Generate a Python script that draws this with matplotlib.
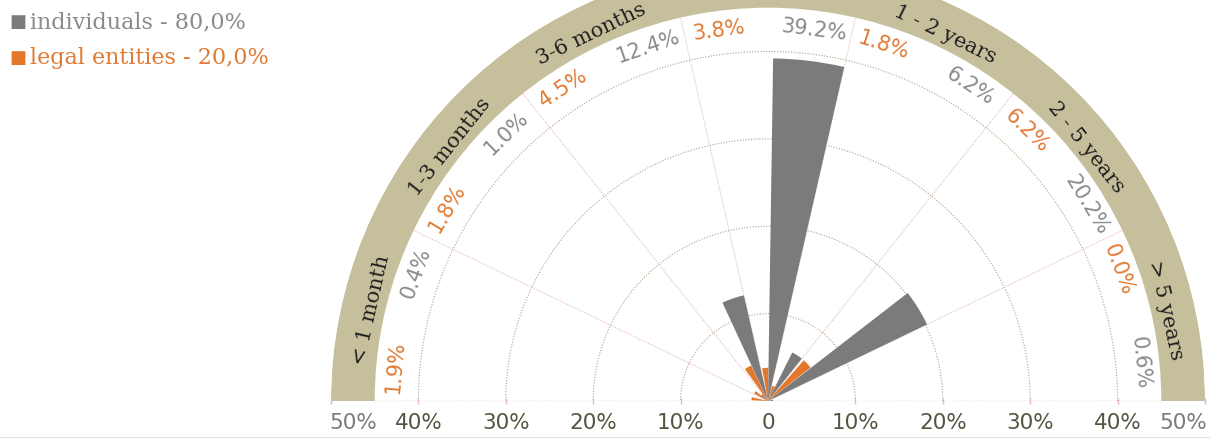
import numpy as np
import matplotlib
matplotlib.use('Agg')
import matplotlib.pyplot as plt
from matplotlib import transforms
from matplotlib.lines import Line2D

# data, left (shortest) to right (longest)
categories = ['< 1 month', '1-3 months', '3-6 months', '6-12 months',
              '1 - 2 years', '2 - 5 years', '> 5 years']
individuals = [0.4, 1.0, 12.4, 39.2, 6.2, 20.2, 0.6]
legal_entities = [1.9, 1.8, 4.5, 3.8, 1.8, 6.2, 0.0]
legend_labels = ['individuals - 80,0%', 'legal entities - 20,0%']
ring_ticks = [10, 20, 30, 40, 50]

GRAY = '#7b7b7b'
ORANGE = '#e2782c'
GRAY_TXT = '#8a8a90'
ORANGE_TXT = '#e07b35'
TAN = '#c6bf9c'
PINK = '#e6b7bd'
OLIVE = '#aaa585'
TICK_TXT = '#55533f'

SERIF = ['DejaVu Serif']
NARROW = ['Liberation Sans Narrow', 'DejaVu Sans']

n = len(categories)
sector = np.pi / n
# first category sits on the left (theta near pi)
starts = np.array([np.pi - (i + 1) * sector for i in range(n)])

W, H = 1210.0, 438.0
fig = plt.figure(figsize=(12.1, 4.38), dpi=100)
# polar box is square and the half disc is centred in it vertically
R = 437.0
cx, cy = 768.0, H - 401.0
ax = fig.add_axes([(cx - R) / W, (cy - R / 2) / H, 2 * R / W, 2 * R / H],
                  projection='polar')
ax.set_thetamin(0)
ax.set_thetamax(180)
ax.set_ylim(0, 50)
ax.set_axis_off()

# tan outer band
ax.bar(np.pi / 2, 5, width=np.pi, bottom=45, color=TAN, edgecolor='none',
       zorder=1)

# dotted rings
th = np.linspace(0, np.pi, 600)
for r in ring_ticks[:-1]:
    ax.plot(th, np.full_like(th, r), color=OLIVE, lw=0.8,
            ls=(0, (1, 1.5)), zorder=2)

# sector dividers
for k in range(1, n):
    ax.plot([k * sector, k * sector], [0, 50], color=PINK, lw=0.8,
            ls=(0, (1, 1.2)), zorder=2)
ax.plot([0, 0], [0, 50], color=PINK, lw=1.0, ls=(0, (1, 1)), zorder=2)
ax.plot([np.pi, np.pi], [0, 50], color=PINK, lw=1.0, ls=(0, (1, 1)), zorder=2)

# bars
gw = np.deg2rad(12)
ow = np.deg2rad(10.5)
ax.bar(starts, individuals, width=gw, align='edge', color=GRAY,
       edgecolor='none', zorder=3)
ax.bar(starts + np.deg2rad(12.5), legal_entities, width=ow, align='edge',
       color=ORANGE, edgecolor='none', zorder=4)

# value labels
for s, gv, ov in zip(starts, individuals, legal_entities):
    tg = s + np.deg2rad(5.8)
    to = s + np.deg2rad(20.5)
    ax.text(tg, 42.8, '{0:.1f}%'.format(gv), rotation=np.rad2deg(tg) - 90,
            rotation_mode='anchor', ha='center', va='center',
            color=GRAY_TXT, fontsize=15, family=NARROW, zorder=5)
    ax.text(to, 42.8, '{0:.1f}%'.format(ov), rotation=np.rad2deg(to) - 90,
            rotation_mode='anchor', ha='center', va='center',
            color=ORANGE_TXT, fontsize=15, family=NARROW, zorder=5)

# category labels in the band
for s, name in zip(starts, categories):
    tc = s + sector / 2
    ax.text(tc, 46.6, name, rotation=np.rad2deg(tc) - 90,
            rotation_mode='anchor', ha='center', va='center',
            color='#1e1e1e', fontsize=15, family=SERIF, zorder=5)

# scale labels under the baseline
below = transforms.offset_copy(ax.transData, fig=fig, y=-22, units='dots')
for r in ring_ticks:
    pos = 47.5 if r == 50 else r
    col = '#7a7a7a' if r == 50 else TICK_TXT
    for t in (0, np.pi):
        ax.text(t, pos, '{0}%'.format(r), transform=below, ha='center',
                va='center', color=col, fontsize=15.5, family=NARROW,
                clip_on=False)
        # small tick marks on the baseline
        ax.plot([t], [r], marker='|', ms=4, color=PINK, zorder=2,
                clip_on=False)
ax.text(0, 0, '0', transform=below, ha='center', va='center',
        color=TICK_TXT, fontsize=15.5, family=NARROW, clip_on=False)

# legend
fig.text(9 / W, 1 - 22 / H, '\u25a0', color=GRAY, fontsize=13,
         va='center', ha='left')
fig.text(30 / W, 1 - 22 / H, legend_labels[0], color=GRAY_TXT,
         fontsize=16, family=SERIF, va='center', ha='left')
fig.text(9 / W, 1 - 58 / H, '\u25a0', color=ORANGE, fontsize=13,
         va='center', ha='left')
fig.text(30 / W, 1 - 58 / H, legend_labels[1], color=ORANGE_TXT,
         fontsize=16, family=SERIF, va='center', ha='left')

fig.add_artist(Line2D([0, 1], [0.5 / H, 0.5 / H], color='#dddddd',
                      lw=1.5, transform=fig.transFigure))

plt.savefig('out.png', dpi=100)
